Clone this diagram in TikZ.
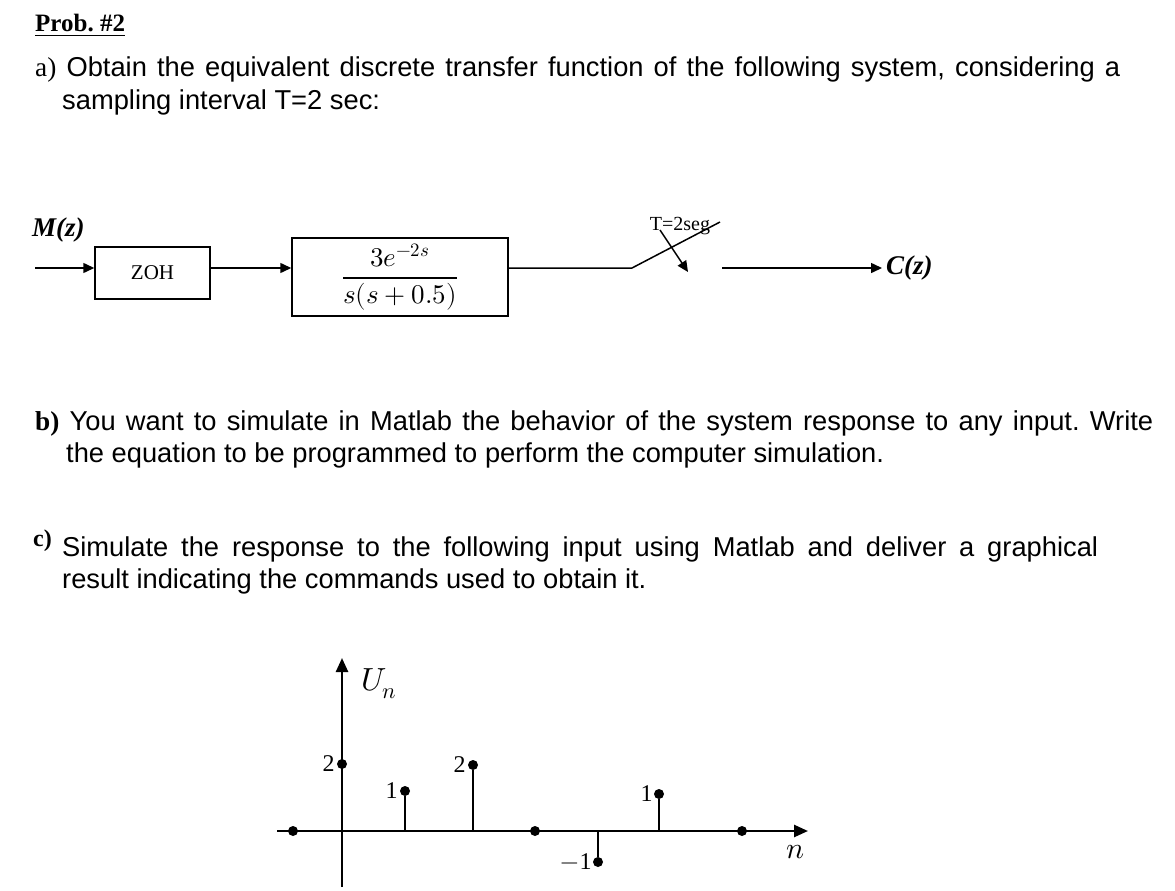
\documentclass[tikz,border=0pt]{standalone}
\usepackage{amsmath}
\usepackage{unicode-math}
\setmainfont{Liberation Sans}
\setmathfont{Latin Modern Math}
\newfontfamily\serif{Liberation Serif}
\usetikzlibrary{arrows.meta}
\frenchspacing
\begin{document}
\begin{tikzpicture}[x=1pt,y=-1pt,
  txt/.style={anchor=base west,inner sep=0,font=\fontsize{27.3}{32}\selectfont},
  blk/.style={draw,line width=1.5pt,inner sep=0},
  sig/.style={line width=1.5pt,-{Triangle[length=11pt,width=10pt]}},
  ax/.style={line width=2.5pt,-{Triangle[length=14pt,width=12pt]}},
  dot/.style={circle,fill,inner sep=0,minimum size=10pt},
  lbl/.style={inner sep=0,font=\serif\fontsize{24}{28}\selectfont}]
\useasboundingbox (0,0) rectangle (1175,891);
\node[txt,font=\serif\bfseries\fontsize{25}{28}\selectfont] (prob) at (35,32) {\underline{Prob. \#2}};
\node[txt] (a1) at (35,77) {\makebox[1085pt][s]{{\serif a)} Obtain the equivalent discrete transfer function of the following system, considering a}};
\node[txt] (a2) at (62,109) {sampling interval T=2 sec:};
% block diagram
\node[blk,minimum width=115pt,minimum height=52pt] (zoh) at (152.5,273) {\serif\fontsize{21}{24}\selectfont ZOH};
\node[blk,minimum width=216pt,minimum height=78pt,font=\fontsize{27}{30}\selectfont] (g) at (400,277) {$\dfrac{3e^{-2s}}{s(s+0.5)}$};
\coordinate (in) at (35,268);
\draw[sig] (in) -- (zoh.west|-in);
\draw[sig] (zoh.east|-in) -- (g.west|-in);
\coordinate (sw0) at (632,268);
\coordinate (sw1) at (720,222);
\coordinate (ar0) at (660,230);
\coordinate (ar1) at (688,272);
\coordinate (o0) at (722,268);
\coordinate (o1) at (882,268);
\draw[line width=1.5pt] (g.east|-in) -- (sw0) -- (sw1);
\draw[sig] (ar0) -- (ar1);
\draw[sig] (o0) -- (o1);
\node[lbl,anchor=west,font=\serif\bfseries\itshape\fontsize{27}{30}\selectfont] (mz) at (32,230) {M(z)};
\node[lbl,anchor=west,font=\serif\bfseries\itshape\fontsize{27}{30}\selectfont] (cz) at (886,268) {C(z)};
\node[lbl,anchor=south,font=\serif\fontsize{20}{22}\selectfont] (T) at (680,235) {T=2seg};
% b, c
\node[txt] (b1) at (35,430) {\makebox[1118pt][s]{{\serif\bfseries b)} You want to simulate in Matlab the behavior of the system response to any input. Write}};
\node[txt] (b2) at (66,462) {the equation to be programmed to perform the computer simulation.};
\node[txt,font=\serif\bfseries\fontsize{24}{26}\selectfont] (c0) at (33,546) {c)};
\node[txt] (c1) at (62,556) {\makebox[1036pt][s]{Simulate the response to the following input using Matlab and deliver a graphical}};
\node[txt] (c2) at (62,588) {result indicating the commands used to obtain it.};
% plot
\coordinate (o) at (342,831);
\coordinate (yb) at (342,887);
\coordinate (yt) at (342,658);
\coordinate (xl) at (277,831);
\coordinate (xr) at (808,831);
\draw[ax] (yb) -- (yt);
\draw[ax] (xl) -- (xr);
\node[inner sep=0,font=\fontsize{32}{36}\selectfont] (un) at (379,684) {$U_n$};
\node[inner sep=0,font=\fontsize{30}{34}\selectfont] (nl) at (795,852) {$n$};
\foreach \nm/\x/\y in {pm1/293/831,p0/342/764,p1/405/791,p2/473/765,p3/535/831,p4/598/862,p5/659/794,p6/742/831}{
  \node[dot] (\nm) at (\x,\y) {};
  \coordinate (\nm b) at (\x,831);
  \draw[line width=1.2pt] (\nm b) -- (\nm);
}
\node[lbl,anchor=east] at ([xshift=-2pt]p0.west) {2};
\node[lbl,anchor=east] at ([xshift=-2pt]p1.west) {1};
\node[lbl,anchor=east] at ([xshift=-2pt]p2.west) {2};
\node[lbl,anchor=east] at ([xshift=-1pt]p4.west) {$-$1};
\node[lbl,anchor=east] at ([xshift=-1pt]p5.west) {1};
\end{tikzpicture}
\end{document}
